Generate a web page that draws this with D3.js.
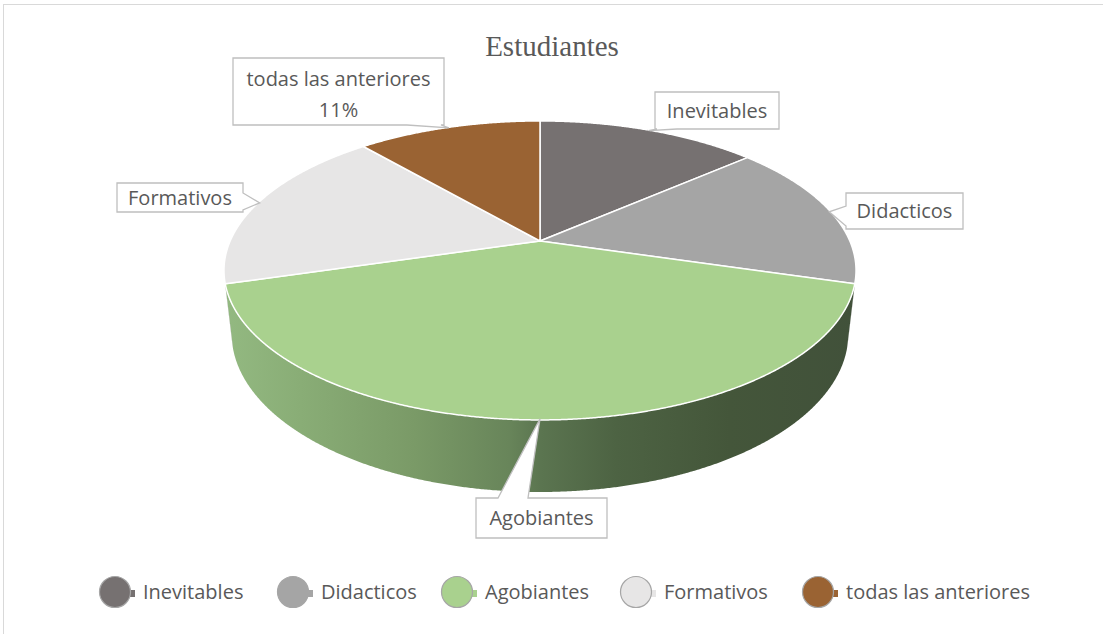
<!DOCTYPE html>
<html>
<head>
<meta charset="utf-8">
<script src="https://cdn.jsdelivr.net/npm/d3@7"></script>
<style>
  html, body { margin: 0; padding: 0; background: #ffffff; }
  svg { display: block; }
</style>
</head>
<body>
<svg id="chart" width="1103" height="634"></svg>
<script>
// ---- data ----
const title = "Estudiantes";
const categories = ["Inevitables", "Didacticos", "Agobiantes", "Formativos", "todas las anteriores"];
const counts = [6, 7, 18, 8, 5];
const colors = ["#767171", "#a5a5a5", "#a9d18e", "#e7e6e6", "#9a6333"];
const showPercent = [false, false, false, false, true];

// ---- layout ----
const W = 1103, H = 634;
const svg = d3.select("#chart");
const textColor = "#595959";
const labelFont = "'Open Sans', 'Noto Sans', sans-serif";

// frame
svg.append("rect").attr("x", 3.5).attr("y", 4.5).attr("width", W + 20).attr("height", H + 20)
  .attr("fill", "#ffffff").attr("stroke", "#d9d9d9").attr("stroke-width", 1);

// title
svg.append("text").attr("x", 552).attr("y", 56).attr("text-anchor", "middle")
  .attr("font-family", "'Liberation Serif', 'Times New Roman', serif").attr("font-size", 29)
  .attr("fill", textColor).text(title);

// ---- 3D perspective projection of the pie ----
const cx = 540, cy = 241;
const R = 1, L = 4.498, F = 1393.6;
const sinP = 0.4638, cosP = Math.sqrt(1 - sinP * sinP);
const depthH = 0.2327;
function proj(theta, h, r = R) {
  const x = r * Math.sin(theta), z = -r * Math.cos(theta), y = h;
  const depth = L - y * sinP - z * cosP;
  const up = y * cosP - z * sinP;
  return [cx + F * x / depth, cy - F * up / depth];
}

const pie = d3.pie().sort(null).value(d => d).startAngle(0).endAngle(2 * Math.PI);
const arcs = pie(counts);
const total = d3.sum(counts);
const pct = d3.format(".0%");

const step = Math.PI / 720;
function arcPoints(a0, a1, h) {
  const pts = [];
  const n = Math.max(2, Math.ceil((a1 - a0) / step));
  for (let i = 0; i <= n; i++) pts.push(proj(a0 + (a1 - a0) * i / n, h));
  return pts;
}
const line = d3.line();

// side gradient for the front wall
const defs = svg.append("defs");
const grad = defs.append("linearGradient").attr("id", "sideGrad")
  .attr("gradientUnits", "userSpaceOnUse").attr("x1", 225).attr("x2", 856).attr("y1", 0).attr("y2", 0);
[[0, "#93b981"], [0.12, "#89ad76"], [0.3, "#7a9a67"], [0.45, "#68855a"], [0.5, "#5b7550"],
 [0.62, "#4d6343"], [0.8, "#44563a"], [1, "#41513a"]].forEach(s =>
  grad.append("stop").attr("offset", s[0]).attr("stop-color", s[1]));

// visible range of the cylinder wall
const cutCos = -R / (L * cosP);
const visA0 = Math.acos(cutCos), visA1 = 2 * Math.PI - visA0;

const gSide = svg.append("g");
arcs.forEach((a, i) => {
  const a0 = Math.max(a.startAngle, visA0), a1 = Math.min(a.endAngle, visA1);
  if (a1 <= a0) return;
  const top = arcPoints(a0, a1, 0);
  const bot = arcPoints(a0, a1, -depthH).reverse();
  const fill = i === 2 ? "url(#sideGrad)" : d3.color(colors[i]).darker(1.2).formatHex();
  gSide.append("path").attr("d", line(top.concat(bot)) + "Z").attr("fill", fill);
});

// top faces
const gTop = svg.append("g");
arcs.forEach((a, i) => {
  const pts = [proj(0, 0, 0)].concat(arcPoints(a.startAngle, a.endAngle, 0));
  gTop.append("path").attr("d", line(pts) + "Z")
    .attr("fill", colors[i]).attr("stroke", "#ffffff").attr("stroke-width", 1.5)
    .attr("stroke-linejoin", "round");
});

// ---- callout labels ----
// [x0, y0, x1, y1, tail side, tail base start, tail base end]
const boxes = [
  [655, 92, 779, 129, "bottom", 657, 677],
  [846, 193, 963, 229, "left", 206, 226],
  [476, 498, 607, 538, "top", 498, 528],
  [117, 183, 243, 212, "right", 193, 210],
  [233, 58, 444, 125, "bottom", 407, 441]
];
function calloutPath(b, tip) {
  const [x0, y0, x1, y1, side, b1, b2] = b;
  const p = d3.path();
  p.moveTo(x0, y0);
  if (side === "top") { p.lineTo(b1, y0); p.lineTo(tip[0], tip[1]); p.lineTo(b2, y0); }
  p.lineTo(x1, y0);
  if (side === "right") { p.lineTo(x1, b1); p.lineTo(tip[0], tip[1]); p.lineTo(x1, b2); }
  p.lineTo(x1, y1);
  if (side === "bottom") { p.lineTo(b2, y1); p.lineTo(tip[0], tip[1]); p.lineTo(b1, y1); }
  p.lineTo(x0, y1);
  if (side === "left") { p.lineTo(x0, b2); p.lineTo(tip[0], tip[1]); p.lineTo(x0, b1); }
  p.closePath();
  return p.toString();
}
const gLab = svg.append("g");
arcs.forEach((a, i) => {
  const mid = (a.startAngle + a.endAngle) / 2;
  const tip = proj(mid, 0, 0.995);
  const b = boxes[i];
  gLab.append("path").attr("d", calloutPath(b, tip))
    .attr("fill", "#ffffff").attr("stroke", "#bfbfbf").attr("stroke-width", 1.3)
    .attr("stroke-linejoin", "miter");
  const lines = [categories[i]];
  if (showPercent[i]) lines.push(pct(counts[i] / total));
  const xc = (b[0] + b[2]) / 2, yc = (b[1] + b[3]) / 2 + (lines.length > 1 ? 2.5 : 0);
  const lh = 31;
  lines.forEach((t, k) => {
    gLab.append("text").attr("x", xc)
      .attr("y", yc + (k - (lines.length - 1) / 2) * lh)
      .attr("dy", "0.36em").attr("text-anchor", "middle")
      .attr("font-family", labelFont).attr("font-size", 20).attr("fill", textColor).text(t);
  });
});

// ---- legend ----
const legendX = [115, 293, 457, 636, 818];
const legendY = 592;
const gLeg = svg.append("g");
categories.forEach((c, i) => {
  const x = legendX[i];
  gLeg.append("rect").attr("x", x + 12).attr("y", legendY - 2).attr("width", 8).attr("height", 7)
    .attr("fill", colors[i]);
  gLeg.append("circle").attr("cx", x).attr("cy", legendY).attr("r", 15.5)
    .attr("fill", colors[i]).attr("stroke", "#a6a6a6").attr("stroke-width", 1.2);
  gLeg.append("text").attr("x", x + 28).attr("y", legendY).attr("dy", "0.36em")
    .attr("font-family", labelFont).attr("font-size", 20).attr("fill", textColor).text(c);
});
</script>
</body>
</html>
